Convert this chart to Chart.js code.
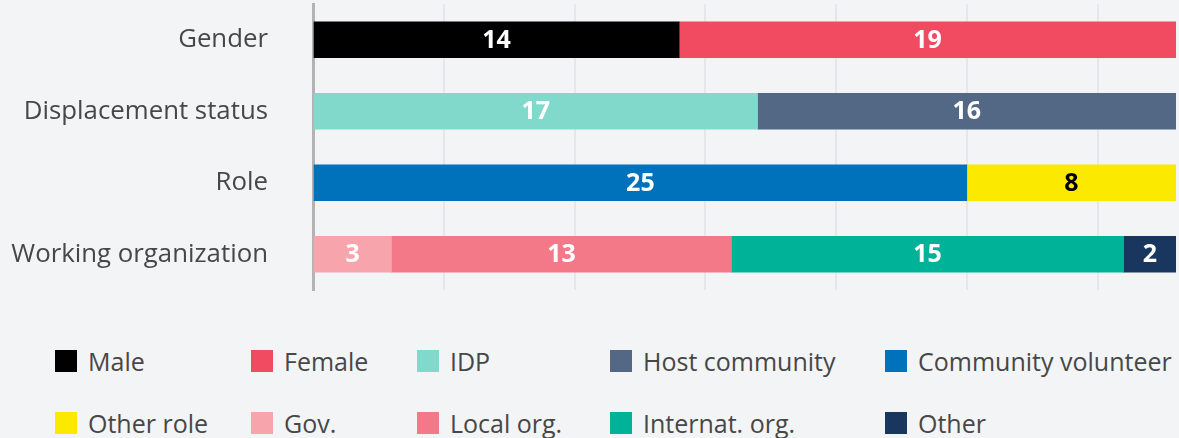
<!DOCTYPE html>
<html>
<head>
<meta charset="utf-8">
<script src="https://cdn.jsdelivr.net/npm/chart.js@4"></script>
<style>
    body { margin: 0; background: #f3f4f6; }
    #wrap { position: relative; width: 1179px; height: 438px; overflow: hidden; background: #f3f4f6; }
    #chartBox { position: absolute; left: 0; top: 0; width: 1179px; height: 300px; }
    #legend {
        position: absolute; left: 55px; top: 330px;
        display: grid; grid-template-columns: 196px 166px 193px 275px auto;
        grid-auto-rows: 62px; align-items: center;
        font-family: "Open Sans", sans-serif; font-size: 25px; color: #474747;
    }
    .item { display: flex; align-items: center; white-space: nowrap; }
    .box { width: 22px; height: 22px; margin-right: 11px; flex: none; }
</style>
</head>
<body>
<div id="wrap">
    <div id="chartBox"><canvas id="groupChart"></canvas></div>
    <div id="legend"></div>
</div>
<script>
const categories = ["Gender", "Displacement status", "Role", "Working organization"];
const seriesNames = ["Male", "Female", "IDP", "Host community", "Community volunteer",
    "Other role", "Gov.", "Local org.", "Internat. org.", "Other"];
const seriesRow = [0, 0, 1, 1, 2, 2, 3, 3, 3, 3];
const seriesValues = [14, 19, 17, 16, 25, 8, 3, 13, 15, 2];
const seriesColors = ["#000000", "#f04b60", "#80d9cb", "#536885", "#0072bb",
    "#fce900", "#f7a4ad", "#f37888", "#00b398", "#18365e"];
const labelColors = ["#ffffff", "#ffffff", "#ffffff", "#ffffff", "#ffffff",
    "#000000", "#ffffff", "#ffffff", "#ffffff", "#ffffff"];

document.addEventListener("DOMContentLoaded", function () {
    const canvas = document.getElementById("groupChart");
    if (typeof Chart === "undefined") {
        console.error("Chart.js not loaded");
        return;
    }

    const datasets = seriesNames.map((name, i) => ({
        label: name,
        data: categories.map((c, r) => r === seriesRow[i] ? seriesValues[i] : null),
        backgroundColor: seriesColors[i],
        borderWidth: 0,
        barThickness: 36,
        labelColor: labelColors[i]
    }));

    // draws the count in the middle of each segment
    const segmentLabels = {
        id: "segmentLabels",
        afterDatasetsDraw(chart) {
            const ctx = chart.ctx;
            ctx.save();
            ctx.font = "bold 25px 'Open Sans', sans-serif";
            ctx.textAlign = "center";
            ctx.textBaseline = "middle";
            chart.data.datasets.forEach((ds, i) => {
                const meta = chart.getDatasetMeta(i);
                meta.data.forEach((bar, j) => {
                    const v = ds.data[j];
                    if (v === null || v === undefined) return;
                    ctx.fillStyle = ds.labelColor;
                    ctx.fillText(String(v), (bar.x + bar.base) / 2, bar.y + 1);
                });
            });
            ctx.restore();
        }
    };

    const chart = new Chart(canvas.getContext("2d"), {
        type: "bar",
        data: { labels: categories, datasets: datasets },
        options: {
            indexAxis: "y",
            responsive: true,
            maintainAspectRatio: false,
            animation: false,
            layout: { padding: { top: 4, right: 3, bottom: 10, left: 0 } },
            plugins: {
                legend: { display: false },
                tooltip: { enabled: false }
            },
            scales: {
                x: {
                    stacked: true,
                    min: 0,
                    max: 33,
                    ticks: { display: false, stepSize: 5 },
                    afterBuildTicks: scale => {
                        scale.ticks = scale.ticks.filter(t => t.value % 5 === 0);
                    },
                    grid: { color: "#e6e7ea", lineWidth: 2, drawTicks: false },
                    border: { display: false }
                },
                y: {
                    stacked: true,
                    afterFit: scale => {
                        scale.width = 313;
                        scale.paddingTop = 0;
                        scale.paddingBottom = 0;
                    },
                    ticks: {
                        color: "#474747",
                        padding: 45,
                        font: { family: "'Open Sans', sans-serif", size: 25.8 }
                    },
                    grid: { display: false, drawTicks: false },
                    border: { display: true, color: "#b3b3b3", width: 3 }
                }
            }
        },
        plugins: [segmentLabels]
    });

    // legend laid out in aligned columns, two rows
    const legend = document.getElementById("legend");
    chart.data.datasets.forEach(ds => {
        const item = document.createElement("div");
        item.className = "item";
        const box = document.createElement("span");
        box.className = "box";
        box.style.background = ds.backgroundColor;
        const text = document.createElement("span");
        text.textContent = ds.label;
        item.appendChild(box);
        item.appendChild(text);
        legend.appendChild(item);
    });
});
</script>
</body>
</html>
